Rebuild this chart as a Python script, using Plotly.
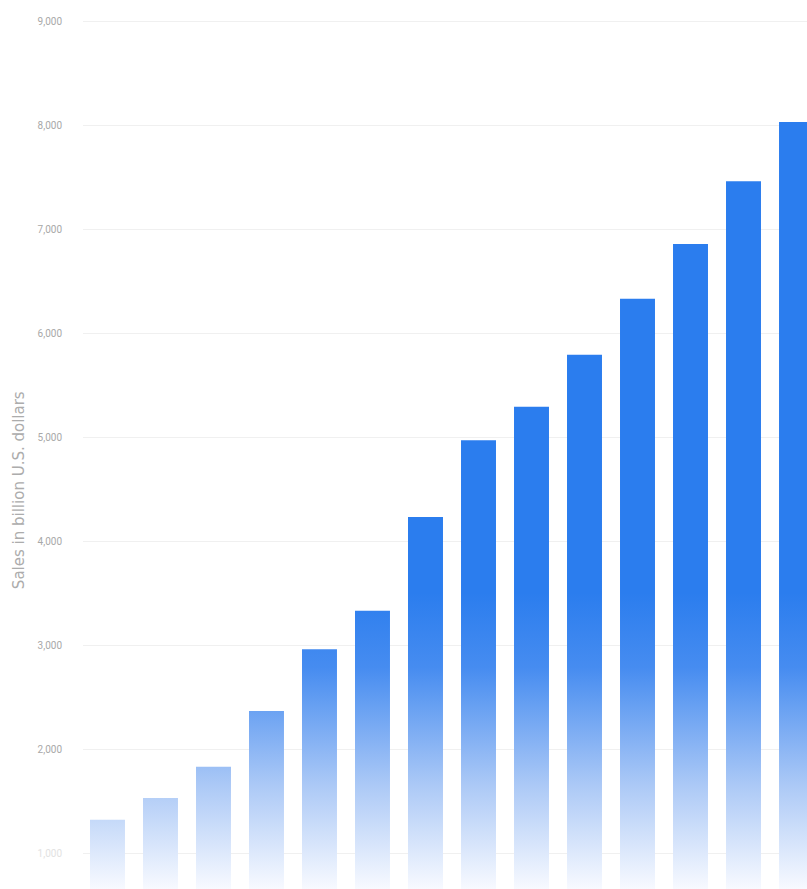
import plotly.graph_objects as go

# Data (billion U.S. dollars)
bar_index = list(range(14))
sales = [1320, 1530, 1830, 2365, 2960, 3330, 4230, 4970, 5290, 5790, 6330, 6855, 7460, 8030]
y_ticks = [1000, 2000, 3000, 4000, 5000, 6000, 7000, 8000, 9000]
y_tick_labels = ["<span style='color:#e2e2e2'>1,000</span>", "2,000", "3,000", "4,000",
                 "5,000", "6,000", "7,000", "8,000", "9,000"]
axis_title = "Sales in billion U.S. dollars"

BLUE = "#2B7DEE"
half_w = 0.33

fig = go.Figure()
for i, v in zip(bar_index, sales):
    fig.add_trace(go.Scatter(
        x=[i - half_w, i - half_w, i + half_w, i + half_w, i - half_w],
        y=[0, v, v, 0, 0],
        mode="lines",
        line=dict(width=0, color=BLUE),
        fill="toself",
        fillgradient=dict(
            type="vertical",
            colorscale=[[0, "rgb(248,250,255)"], [0.35, "rgb(172,201,246)"],
                        [0.75, "rgb(70,140,240)"], [1, BLUE]],
            start=650, stop=3500,
        ),
        hoverinfo="skip",
        showlegend=False,
    ))

fig.update_layout(
    width=807, height=889,
    margin=dict(l=83, r=0, t=0, b=0),
    paper_bgcolor="white", plot_bgcolor="white",
    font=dict(family="Roboto, Arial, sans-serif", color="#9a9a9a"),
    showlegend=False,
    annotations=[dict(
        text=axis_title, textangle=-90,
        xref="paper", yref="paper", x=-0.088, y=0.449,
        xanchor="center", yanchor="middle", showarrow=False,
        font=dict(family="DejaVu Sans, sans-serif", size=15, color="#acacac"),
    )],
)
fig.update_xaxes(
    range=[-0.462, 13.198], showgrid=False, zeroline=False,
    showticklabels=False, ticks="", showline=False,
)
fig.update_yaxes(
    range=[654, 9202], tickvals=y_ticks, ticktext=y_tick_labels,
    showgrid=True, gridcolor="rgba(0,0,0,0.06)", gridwidth=1,
    zeroline=False, showline=False, ticks="",
    tickfont=dict(size=10, color="#a8a8a8"),
    ticklabelstandoff=20,
    automargin=False,
)

fig.write_html("out.html")
